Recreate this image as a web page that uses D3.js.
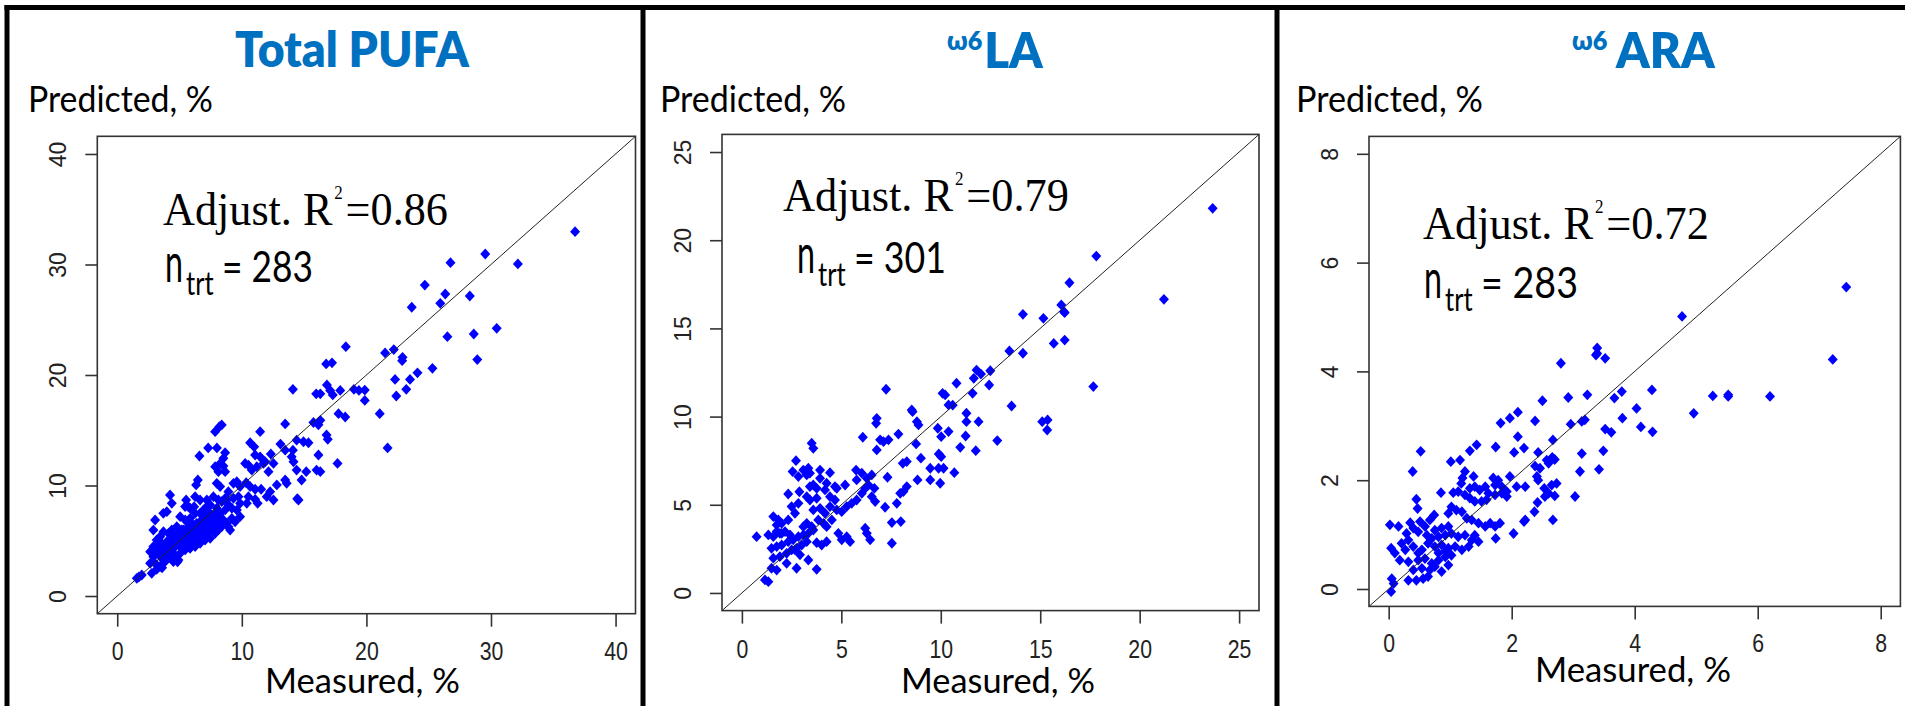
<!DOCTYPE html>
<html>
<head>
<meta charset="utf-8">
<script src="https://cdn.jsdelivr.net/npm/d3@7"></script>
<style>
  body { margin: 0; background: #fff; }
  svg { display: block; }
</style>
</head>
<body>
<div id="chart-area"></div>
<script>
// measured vs predicted, %
const pufaPoints = [
  [18.35,22.56],[16.77,21.0],[17.24,21.1],[14.1,18.7],[16.83,19.1],[15.97,18.3],[16.3,18.3],[17.09,18.6],[17.3,18.2],[17.9,18.6],
  [19.0,18.7],[19.4,18.6],[13.48,15.57],[15.75,15.7],[16.15,15.5],[16.3,15.9],[17.76,16.5],[18.3,16.2],[11.47,14.87],[7.86,14.87],
  [8.2,15.32],[8.39,15.48],[10.67,13.87],[10.99,13.5],[13.1,13.75],[14.4,14.1],[14.95,13.96],[15.35,13.87],[16.8,14.57],[16.9,14.18],
  [7.3,13.4],[8.0,13.4],[6.6,12.67],[8.66,12.97],[8.52,12.46],[11.07,12.76],[11.47,12.6],[11.74,12.0],[12.33,12.85],[13.48,13.2],
  [14.1,13.2],[14.0,12.6],[14.15,12.15],[16.15,12.76],[17.68,12.0],[7.86,11.7],[8.12,11.25],[8.66,11.25],[8.26,12.0],[8.52,11.76],
  [10.27,12.0],[10.53,11.85],[10.8,11.4],[11.2,11.7],[11.87,12.15],[12.14,11.25],[12.54,12.0],[13.48,10.5],[13.6,10.2],[14.4,11.4],
  [15.17,11.25],[14.8,10.5],[16.0,11.4],[16.3,11.25],[14.55,8.69],[14.45,8.8],[6.47,10.5],[6.33,10.05],[7.99,10.2],[8.26,9.9],
  [9.33,10.2],[9.6,10.34],[9.86,9.9],[10.35,10.25],[10.67,9.9],[11.07,9.66],[11.55,9.66],[11.27,8.39],[12.81,10.05],[12.27,9.44],
  [12.0,8.99],[12.54,8.69],[10.53,8.99],[11.07,8.75],[10.4,8.39],[4.24,9.14],[4.38,8.39],[3.98,7.63],[3.7,7.48],[3.04,6.88],
  [2.9,5.97],[5.53,8.69],[5.71,8.08],[6.25,8.99],[6.17,8.08],[6.65,8.69],[7.19,8.69],[7.72,8.99],[8.12,8.69],[8.66,8.84],
  [8.92,9.44],[9.33,8.84],[9.73,8.99],[9.86,8.39],[9.6,7.78],[9.86,7.18],[9.46,6.72],[8.92,6.27],[9.06,5.97],[8.52,6.88],
  [8.0,7.48],[8.26,6.88],
  [21.5,22.0],[22.2,22.3],[22.87,21.3],[22.9,21.6],[25.3,20.6],[28.9,21.4],[22.3,19.6],[23.5,19.6],[24.1,20.2],[22.4,18.1],
  [23.2,18.7],[21.07,16.5],[21.7,13.4],[19.87,18.64],[19.87,17.7],
  [36.75,32.97],[32.16,30.05],[29.54,30.95],[26.75,30.16],[24.69,28.14],[26.33,27.33],[28.3,27.15],[25.93,26.49],[23.64,26.13],[26.5,23.47],
  [28.62,23.71],[30.46,24.22],
  [5.05,7.18],[5.45,6.88],[5.85,7.03],[6.25,7.48],[6.65,7.48],[6.92,7.79],[7.19,8.09],[7.46,8.24],[7.05,7.18],[6.65,6.73],
  [6.12,6.43],[5.72,6.28],[5.31,5.98],[4.91,5.67],[4.51,5.52],[4.11,5.67],[3.71,5.82],[3.44,5.37],[3.17,5.07],[3.57,4.77],
  [3.97,4.92],[4.38,5.07],[4.78,5.22],[5.18,5.37],[5.58,5.52],[5.98,5.67],[6.38,5.98],[6.79,6.28],[7.19,6.58],[7.59,6.88],
  [7.99,7.03],[7.72,6.28],[7.32,5.67],[6.92,5.37],[6.52,5.07],[6.12,4.77],[5.72,4.47],[5.31,4.32],[4.91,4.62],[4.51,4.32],
  [4.11,4.17],[3.71,4.01],[3.31,3.86],[2.9,3.56],[3.04,2.96],[3.44,2.66],[3.84,3.11],[4.24,3.56],[4.64,3.71],[5.05,3.86],
  [5.45,4.17],[5.85,4.32],[6.25,4.47],[6.65,4.77],[7.05,5.07],[7.46,5.22],[7.86,5.67],[8.12,5.98],[8.39,6.28],[8.79,6.58],
  [9.2,7.03],[8.26,7.48],[8.66,7.79],[8.93,8.24],[9.2,7.94],[5.45,8.09],[5.85,7.94],[4.78,6.28],[4.38,5.98],[2.9,4.47],
  [2.64,4.01],[2.64,2.96],[3.17,2.42],[2.77,2.05],[1.97,1.9],[1.57,1.6],[4.91,3.26],[4.51,3.11],[5.72,5.07],[6.38,5.67],
  [6.79,5.82],[7.19,5.98],[7.46,7.48],[5.18,5.98],[5.58,5.98],[5.98,6.28],[6.38,6.58],[6.25,5.37],[5.85,5.07],[5.45,4.92],
  [5.05,4.77],[4.64,4.47],[4.24,4.62],[3.84,4.47],[3.31,4.32],[3.97,3.71],[3.57,3.41],[4.38,3.86],[6.65,5.67],[7.05,5.98],
  [7.46,5.98],[7.86,6.43],[6.92,6.88],[7.32,7.03],[7.72,7.33],[7.99,7.94],[8.39,8.54],[8.79,8.69],[2.96,3.98],[3.6,2.55],
  [4.84,3.1],[1.73,1.72]
]

const laPoints = [
  [7.25,11.55],[10.09,11.32],[10.22,11.23],[10.39,10.66],[8.54,10.38],[8.8,9.71],[8.88,9.53],[6.78,9.9],[6.75,9.62],[9.85,9.34],
  [10.02,8.86],[10.39,9.15],[6.08,8.83],[6.95,8.68],[7.37,8.68],[7.12,8.58],[7.87,9.01],[8.76,8.45],[6.78,8.11],[3.51,8.49],
  [3.59,8.2],[9.9,7.88],[9.0,7.64],[8.09,7.35],[8.29,7.45],[9.47,7.07],[9.89,7.07],[10.14,7.07],[2.72,7.5],[2.55,6.88],
  [2.84,6.6],[3.09,6.97],[3.34,7.07],[3.26,6.69],[3.42,6.79],[3.93,6.97],[4.43,6.82],[3.93,6.5],[3.59,6.12],[4.26,6.22],
  [4.68,6.03],[4.77,5.93],[5.74,6.97],[6.03,6.79],[6.28,6.5],[6.53,6.69],[5.77,6.41],[7.32,6.56],[6.66,5.93],[5.19,6.12],
  [2.33,5.61],[2.89,5.74],[3.26,5.46],[3.42,5.27],[3.76,5.37],[8.83,6.41],[8.29,6.03],[8.12,5.75],[7.96,5.65],[9.47,6.41],
  [9.97,6.22],[6.53,5.46],[6.7,5.18],[7.2,4.86],[7.79,5.08],[7.54,3.99],[7.99,4.05],[7.54,2.82],[0.74,3.19],[1.58,4.33],
  [1.83,4.14],[1.75,3.86],[2.0,3.95],[1.33,3.29],[1.58,3.19],[1.91,3.38],[2.17,3.48],[2.42,3.29],[1.49,2.53],[1.75,2.63],
  [2.0,2.72],[2.33,2.91],[2.58,3.01],[2.84,3.19],[3.09,3.29],[3.34,3.38],[3.59,3.57],[1.58,1.97],[1.91,2.06],[2.25,2.25],
  [2.5,2.44],[2.75,2.53],[3.01,2.72],[3.26,2.91],[1.49,1.4],[1.75,1.3],[2.25,1.68],[2.75,1.4],[3.34,1.87],[3.76,1.34],
  [1.16,0.74],[1.33,0.64],[3.84,4.14],[4.1,3.95],[4.26,3.76],[4.52,4.14],[3.59,4.71],[3.93,4.8],[4.18,4.52],[4.43,4.9],
  [4.77,4.71],[5.02,4.61],[5.27,4.9],[5.52,5.08],[5.77,5.27],[6.03,5.65],[6.2,5.93],[6.36,6.12],[4.85,3.38],[5.02,3.01],
  [5.27,3.19],[5.44,2.91],[6.2,3.67],[6.28,3.38],[6.45,3.01],[3.26,3.95],[3.51,3.76],[3.09,3.76],[2.67,2.44],[2.92,2.16],
  [3.76,2.85],[4.01,2.72],[4.26,2.91],[2.33,4.14],[2.67,4.52],[2.5,4.9],[2.84,5.08],[1.75,3.48],[2.0,3.38],[3.42,6.03],
  [3.76,5.93],[4.18,5.84],[4.43,5.46],[4.68,5.27],
  [23.67,21.81],[17.82,19.1],[16.47,17.59],[21.22,16.65],[16.06,16.33],[16.19,15.95],[16.23,15.89],[14.13,15.8],[15.16,15.57],[15.68,14.15],
  [16.23,14.34],[13.45,13.72],[14.13,13.59],[17.67,11.7],[13.56,10.6],[15.1,9.71],[15.37,9.81],[15.35,9.24],[12.84,8.64],[12.43,11.79],
  [12.02,12.41],[12.49,12.6],[11.8,12.64],[11.66,12.17],[11.6,11.32],[11.29,10.19],[11.9,9.71],[11.29,9.71],[11.25,8.9],[10.98,8.26],
  [11.76,8.07],[10.79,11.89],[10.68,6.82],[10.02,7.73],[8.58,10.28],[10.6,10.65]
]

const araPoints = [
  [3.23,3.57],[2.92,3.52],[2.5,3.46],[2.1,3.25],[1.97,3.14],[1.82,3.05],[2.38,3.09],[2.96,3.03],[3.14,3.08],[3.19,3.11],
  [2.1,2.8],[2.67,2.74],[1.43,2.65],[1.32,2.54],[1.74,2.61],[2.04,2.51],[2.2,2.59],[0.52,2.53],[2.43,2.51],[3.14,2.49],
  [1.01,2.34],[1.16,2.37],[2.57,2.37],[2.66,2.42],[2.7,2.38],[2.6,2.31],[2.38,2.26],[2.46,2.22],[3.11,2.16],[0.39,2.16],
  [1.24,2.16],[1.38,2.07],[1.2,2.04],[1.18,1.94],[1.7,2.04],[1.78,2.0],[1.73,1.91],[1.84,1.88],[1.92,1.79],[1.97,2.07],
  [2.22,1.88],[2.08,1.88],[2.41,2.07],[2.43,2.0],[2.53,1.85],[2.6,1.76],[2.65,1.91],[2.73,1.94],[2.54,1.7],[2.7,1.71],
  [3.03,1.7],[0.85,1.77],[1.05,1.77],[1.13,1.79],[1.32,1.85],[1.4,1.88],[1.48,1.82],[1.57,1.88],[1.62,1.76],[1.24,1.73],
  [1.32,1.67],[1.4,1.61],[1.51,1.61],[1.59,1.64],[1.73,1.73],[1.84,1.76],[1.92,1.7],[0.45,1.65],[0.47,1.48],[0.74,1.36],
  [2.42,1.59],[2.37,1.42],[2.22,1.27],[2.2,1.24],[2.67,1.27],[2.03,1.02],[1.74,0.93],[1.02,1.51],[1.1,1.45],[1.19,1.42],
  [0.97,1.39],[1.27,1.3],[1.35,1.27],[1.46,1.21],[1.57,1.15],[1.65,1.21],[1.73,1.15],[1.81,1.21],[0.02,1.18],[0.16,1.15],
  [0.35,1.22],[0.4,1.12],[0.51,1.24],[0.59,1.15],[0.67,1.27],[0.29,1.02],[0.48,1.05],[0.62,0.99],[0.75,1.08],[0.86,1.12],
  [0.97,1.15],[0.7,0.93],[0.81,0.96],[0.92,0.99],[1.02,1.02],[1.13,0.96],[1.24,0.99],[1.35,0.9],[1.46,0.87],[1.4,0.99],
  [0.64,0.84],[0.75,0.78],[0.86,0.81],[0.97,0.75],[1.08,0.78],[1.19,0.72],[1.3,0.78],[0.04,0.75],[0.1,0.66],[0.27,0.72],
  [0.4,0.78],[0.18,0.53],[0.32,0.5],[0.48,0.53],[0.59,0.56],[0.7,0.47],[0.81,0.53],[0.92,0.59],[1.02,0.62],[0.4,0.35],
  [0.54,0.38],[0.67,0.35],[0.75,0.41],[0.86,0.32],[0.97,0.44],[0.32,0.16],[0.45,0.16],[0.56,0.19],[0.64,0.23],[0.05,0.19],
  [0.08,0.1],[0.04,-0.05],[0.48,0.66],[0.54,0.72],[0.81,0.66],[0.92,0.69],[0.21,0.84],[0.32,0.9],
  [7.22,4.22],[6.2,3.54],[5.52,3.57],[5.52,3.54],[5.27,3.55],[4.96,3.23],[4.28,3.66],[4.29,2.89],[4.1,2.98],[4.03,3.32],
  [3.79,3.63],[3.8,3.14],[3.67,3.51],[3.52,4.24],[3.39,4.33],[3.37,4.3],[2.8,4.15],[3.52,2.94],[3.62,2.88],[3.49,2.54],
  [3.42,2.2],[4.77,5.01],[7.44,5.55],[3.39,4.43]
]

const panelTitles = ["Total PUFA", "LA", "ARA"]
const titlePrefix = ["", "\u03c96", "\u03c96"]
const adjR2 = ["0.86", "0.79", "0.72"]
const nTrt = ["283", "301", "283"]
const axisLims = [[0, 40], [0, 25], [0, 8]]
const axisTicks = [[0, 10, 20, 30, 40], [0, 5, 10, 15, 20, 25], [0, 2, 4, 6, 8]]
const allPoints = [pufaPoints, laPoints, araPoints]

const svgWidth = 1905
const svgHeight = 706
const blue = "#0070c0"
const sansFont = "Lato, 'Open Sans', sans-serif"
const tickFont = "'Liberation Sans', Arial, sans-serif"
const serifFont = "'Liberation Serif', 'Times New Roman', serif"

// plot box and text spots for each panel
const layout = [
  { box: { l: 97.3, r: 635.5, t: 136.3, b: 613.7 },
    title: { x: 235, y: 67, w: 235 }, ylab: { x: 28, y: 112, w: 185 }, xlab: { x: 265, y: 693, w: 195 },
    r2: { x: 163, y: 225, w: 285 }, n: { x: 165, y: 282, w: 148 }, tickY: 46 },
  { box: { l: 722, r: 1259, t: 134.4, b: 610.6 },
    title: { x: 947, y: 68, w: 97, gap: 2 }, ylab: { x: 660, y: 112, w: 186 }, xlab: { x: 901, y: 693, w: 194 },
    r2: { x: 783, y: 211, w: 286 }, n: { x: 797, y: 273, w: 149 }, tickY: 47 },
  { box: { l: 1369, r: 1900.4, t: 136.4, b: 606.4 },
    title: { x: 1572, y: 68, w: 144, gap: 9 }, ylab: { x: 1296, y: 112, w: 187 }, xlab: { x: 1535, y: 682, w: 196 },
    r2: { x: 1423, y: 239, w: 286 }, n: { x: 1424, y: 298, w: 154 }, tickY: 46 }
]

const svg = d3.select("#chart-area")
  .append("svg")
  .attr("width", svgWidth)
  .attr("height", svgHeight)

svg.append("rect").attr("width", svgWidth).attr("height", svgHeight).attr("fill", "#fff")

// text squeezed / stretched to the width it takes in the picture
function fitText(parent, spot, font, parts) {
  const g = parent.append("g")
  const t = g.append("text")
    .attr("font-family", font.family)
    .attr("font-weight", font.weight || "normal")
    .attr("font-size", font.size)
    .attr("fill", font.fill || "#000")
  parts.forEach(p => {
    t.append("tspan")
      .attr("font-size", p.size || font.size)
      .attr("dy", p.dy || 0)
      .attr("dx", p.dx || 0)
      .text(p.t)
  })
  const bb = t.node().getBBox()
  t.attr("x", -bb.x)
  g.attr("transform", `translate(${spot.x},${spot.y}) scale(${spot.w / bb.width},1)`)
}

layout.forEach((L, i) => {
  const [lo, hi] = axisLims[i]
  const pad = (hi - lo) * 0.04
  const dom = [lo - pad, hi + pad]

  const xScale = d3.scaleLinear().domain(dom).range([L.box.l, L.box.r])
  const yScale = d3.scaleLinear().domain(dom).range([L.box.b, L.box.t])

  const chart = svg.append("g")

  chart.selectAll("path.pt")
    .data(allPoints[i])
    .join("path")
    .attr("class", "pt")
    .attr("d", d3.symbol(d3.symbolSquare, 50))
    .attr("transform", d => `translate(${xScale(d[0])},${yScale(d[1])}) scale(1,1.08) rotate(45)`)
    .attr("fill", "#0000ff")

  // 1:1 line
  chart.append("line")
    .attr("x1", xScale(dom[0])).attr("y1", yScale(dom[0]))
    .attr("x2", xScale(dom[1])).attr("y2", yScale(dom[1]))
    .attr("stroke", "#222")
    .attr("stroke-width", 1)

  chart.append("rect")
    .attr("x", L.box.l).attr("y", L.box.t)
    .attr("width", L.box.r - L.box.l).attr("height", L.box.b - L.box.t)
    .attr("fill", "none")
    .attr("stroke", "#333")
    .attr("stroke-width", 1.6)

  const xAxis = chart.append("g")
    .attr("transform", `translate(0,${L.box.b})`)
    .call(d3.axisBottom(xScale).tickValues(axisTicks[i]).tickSize(13).tickSizeOuter(0))
  xAxis.select(".domain").remove()
  xAxis.selectAll("line").attr("stroke", "#333").attr("stroke-width", 1.6)
  xAxis.selectAll("text")
    .attr("y", null).attr("dy", null)
    .attr("transform", `translate(0,${L.tickY}) scale(0.85,1)`)
    .attr("font-size", 25)
    .attr("font-family", tickFont)
    .attr("fill", "#222")

  const yAxis = chart.append("g")
    .attr("transform", `translate(${L.box.l},0)`)
    .call(d3.axisLeft(yScale).tickValues(axisTicks[i]).tickSize(12).tickSizeOuter(0))
  yAxis.select(".domain").remove()
  yAxis.selectAll("line").attr("stroke", "#333").attr("stroke-width", 1.6)
  yAxis.selectAll("text")
    .attr("x", null).attr("dy", null)
    .attr("text-anchor", "middle")
    .attr("transform", "translate(-31,0) rotate(-90)")
    .attr("font-size", 23)
    .attr("font-family", tickFont)
    .attr("fill", "#222")

  // title
  const titleParts = titlePrefix[i]
    ? [{ t: titlePrefix[i], size: 26, dy: -18 }, { t: panelTitles[i], dy: 18, dx: L.title.gap }]
    : [{ t: panelTitles[i] }]
  fitText(chart, L.title, { family: sansFont, weight: 800, size: 49, fill: blue }, titleParts)

  fitText(chart, L.ylab, { family: sansFont, size: 36 }, [{ t: "Predicted, %" }])
  fitText(chart, L.xlab, { family: sansFont, size: 34 }, [{ t: "Measured, %" }])

  fitText(chart, L.r2, { family: serifFont, size: 47 }, [
    { t: "Adjust. R" },
    { t: "2", size: 18, dy: -26, dx: 2 },
    { t: "=" + adjR2[i], dy: 26, dx: 3 }
  ])

  // n with subscript trt, each piece fitted on its own
  const n = L.n
  fitText(chart, { x: n.x, y: n.y, w: 18 }, { family: sansFont, size: 54 }, [{ t: "n" }])
  fitText(chart, { x: n.x + 21, y: n.y + 13, w: 28 }, { family: sansFont, size: 32 }, [{ t: "trt" }])
  fitText(chart, { x: n.x + 57, y: n.y, w: n.w - 57 }, { family: sansFont, size: 42 }, [{ t: "= " + nTrt[i] }])
})

// thick frame round the panels
const frame = svg.append("g").attr("stroke", "#000")
frame.append("line").attr("x1", 4.5).attr("x2", svgWidth).attr("y1", 7.5).attr("y2", 7.5).attr("stroke-width", 5)
;[7, 643, 1277].forEach(x => {
  frame.append("line").attr("x1", x).attr("x2", x).attr("y1", 5).attr("y2", svgHeight).attr("stroke-width", 5)
})
</script>
</body>
</html>
